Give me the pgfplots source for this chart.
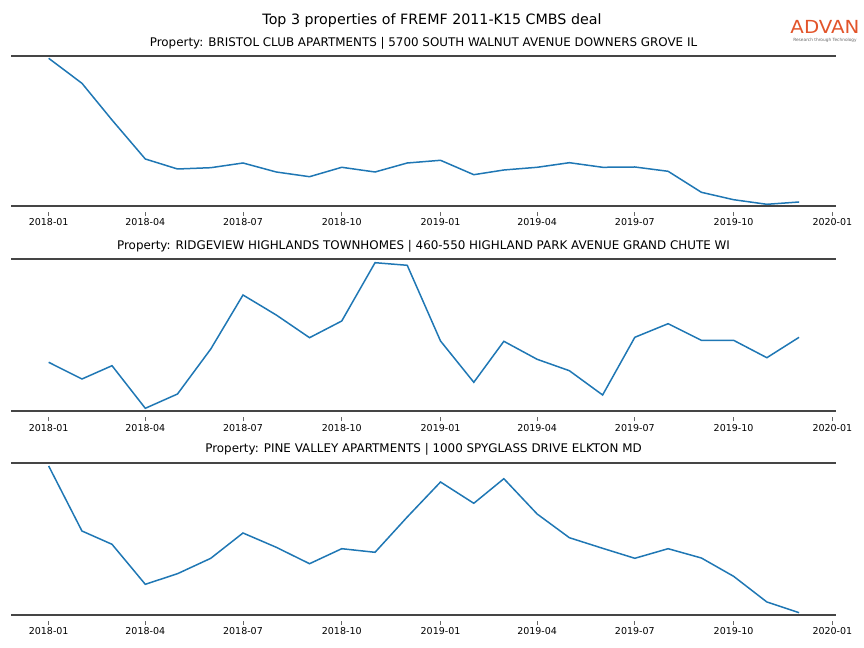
\documentclass[border=0pt]{standalone}
\usepackage{fontspec}
\setmainfont{DejaVu Sans}
\usepackage{graphicx}
\usepackage{pgfplots}
\pgfplotsset{compat=1.18}
\usepackage{pgfplotstable}
\definecolor{mplblue}{HTML}{1F77B4}
\definecolor{spine}{HTML}{454545}
\definecolor{advan}{HTML}{E2542A}

% day offsets from 2018-01-01, value in px above the bottom spine
\pgfplotstableread{
day  v
0    147.7
31   122.7
59   86.0
90   47.0
120  37.0
151  38.3
181  43.0
212  34.0
243  29.3
273  38.7
304  34.0
334  43.0
365  45.7
396  31.3
424  36.0
455  38.7
485  43.3
516  38.7
546  39.0
577  34.7
608  13.7
638  6.3
669  1.7
699  4.0
}\bristol
\pgfplotstableread{
day  v
0    49.2
31   32.5
59   45.8
90   3.2
120  17.5
151  62.5
181  116.5
212  96.5
243  73.8
273  90.5
304  148.8
334  146.2
365  70.5
396  29.2
424  70.2
455  52.2
485  40.8
516  16.5
546  74.2
577  87.8
608  71.2
638  71.2
669  53.8
699  74.2
}\ridgeview
\pgfplotstableread{
day  v
0    148.7
31   83.7
59   70.4
90   30.4
120  41.0
151  56.4
181  81.7
212  67.4
243  51.0
273  66.0
304  62.4
334  97.7
365  132.7
396  111.4
424  136.0
455  100.7
485  77.0
516  66.4
546  56.4
577  66.0
608  56.7
638  38.4
669  12.7
699  2.0
}\pinevalley

\pgfplotsset{
  panel/.style={
    scale only axis,
    width=825bp,
    xmin=-35.1, xmax=733.4,
    ymin=0,
    axis x line=box,
    axis y line=none,
    x axis line style={draw=spine, line width=2bp},
    xtick={0,90,181,273,365,455,546,638,730},
    xticklabels={2018-01,2018-04,2018-07,2018-10,2019-01,2019-04,2019-07,2019-10,2020-01},
    xtick pos=bottom,
    tick align=outside,
    major tick length=4bp,
    xtick style={draw=black!60, line width=0.8bp, yshift=-6bp},
    xticklabel style={font=\fontsize{9.5bp}{11bp}\selectfont, anchor=center},
    xticklabel shift=12.5bp,
    every axis title/.style={at={(0.5,1)}, anchor=center, yshift=13bp, font=\fontsize{11.9bp}{14bp}\selectfont},
    clip=false,
  },
}

\begin{document}
\begin{tikzpicture}
\path[use as bounding box] (0,0) rectangle (864bp,648bp);

\node[font=\fontsize{14.25bp}{17bp}\selectfont] at (432bp,627bp) {Top 3 properties of FREMF 2011-K15 CMBS deal};
\node[inner sep=0pt, font=\fontsize{18bp}{20bp}\selectfont, text=advan] at (825bp,621.5bp) {\scalebox{1.1}[1]{ADVAN}};
\node[inner sep=0pt, font=\fontsize{4.3bp}{5bp}\selectfont, text=black!60] at (825bp,607.5bp) {Research through Technology};

\begin{axis}[panel, at={(11bp,442bp)}, anchor=south west, height=150bp, ymax=150,
  title={Property: BRISTOL CLUB APARTMENTS | 5700 SOUTH WALNUT AVENUE DOWNERS GROVE IL}]
\addplot[mplblue, line width=1.5bp, no marks] table[x=day, y=v] {\bristol};
\end{axis}

\begin{axis}[panel, at={(11bp,236.5bp)}, anchor=south west, height=152.5bp, ymax=152.5,
  title={Property: RIDGEVIEW HIGHLANDS TOWNHOMES | 460-550 HIGHLAND PARK AVENUE GRAND CHUTE WI}]
\addplot[mplblue, line width=1.5bp, no marks] table[x=day, y=v] {\ridgeview};
\end{axis}

\begin{axis}[panel, at={(11bp,33.3bp)}, anchor=south west, height=152bp, ymax=152,
  title={Property: PINE VALLEY APARTMENTS | 1000 SPYGLASS DRIVE ELKTON MD}]
\addplot[mplblue, line width=1.5bp, no marks] table[x=day, y=v] {\pinevalley};
\end{axis}
\end{tikzpicture}
\end{document}
